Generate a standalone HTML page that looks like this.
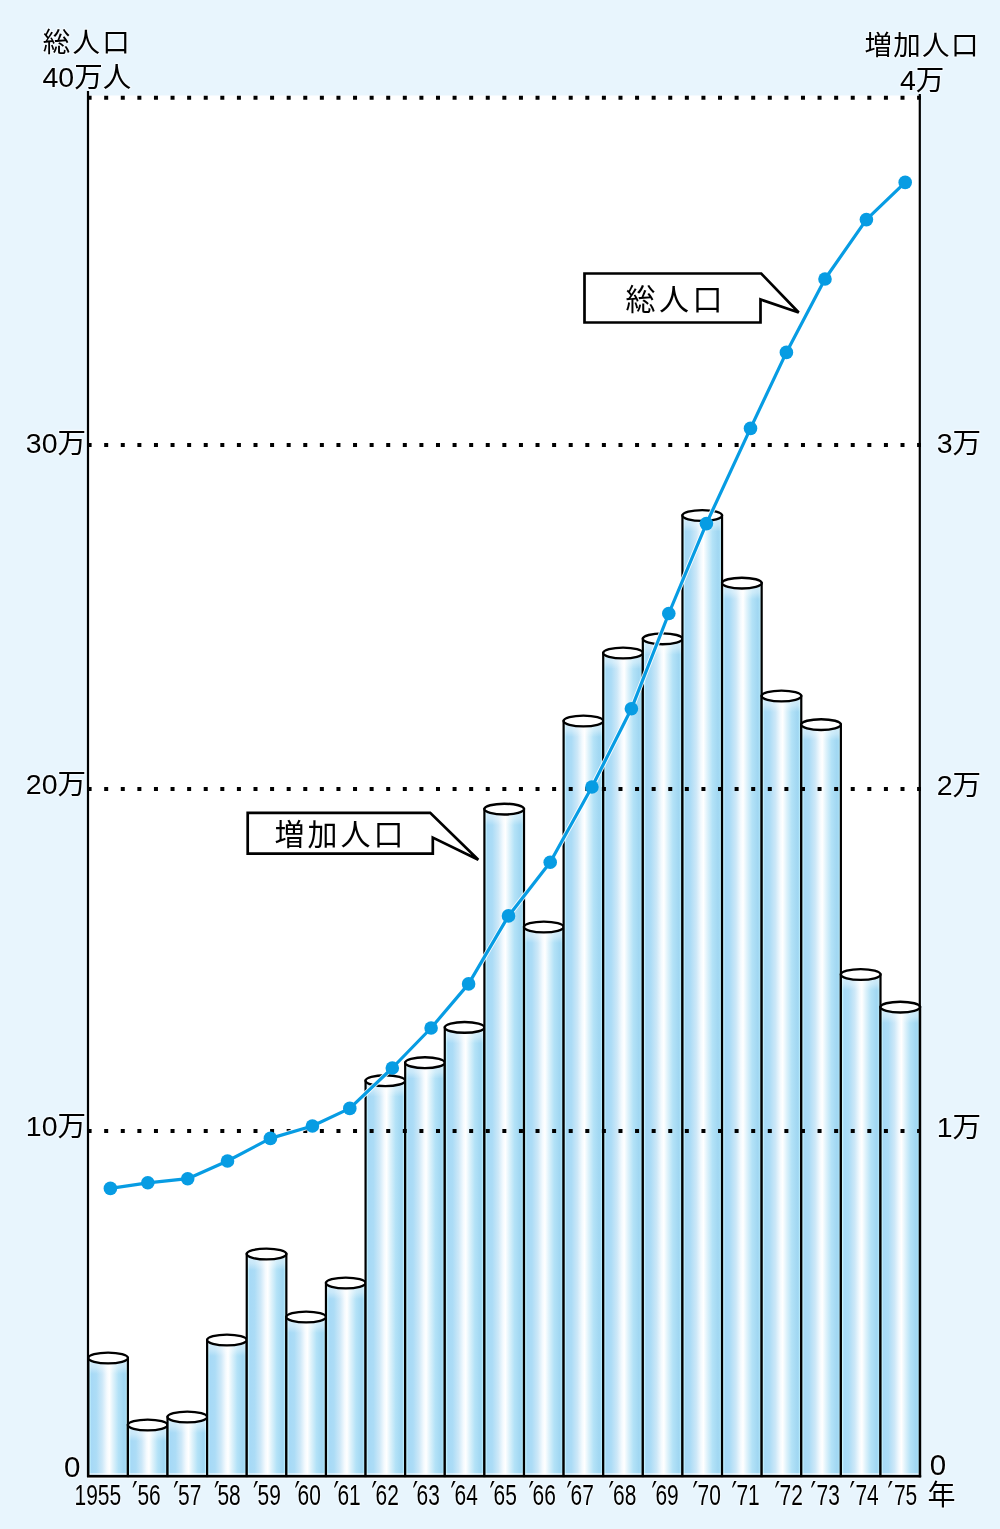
<!DOCTYPE html><html><head><meta charset="utf-8"><style>html,body{margin:0;padding:0;background:#e8f5fd;}svg{display:block}text{font-family:"Liberation Sans","Noto Sans CJK JP",sans-serif;fill:#000;stroke:#fff;stroke-width:2.5px;stroke-opacity:.55;paint-order:stroke;stroke-linejoin:round}.j{font-family:"Noto Sans CJK JP",sans-serif}</style></head><body>
<svg width="1000" height="1529" viewBox="0 0 1000 1529">
<defs><linearGradient id="g" x1="0" x2="1" y1="0" y2="0"><stop offset="0" stop-color="#b5e6fa"/><stop offset="0.04" stop-color="#c4f2fe"/><stop offset="0.075" stop-color="#a6d9f6"/><stop offset="0.2" stop-color="#acdcf6"/><stop offset="0.35" stop-color="#cde8f8"/><stop offset="0.47" stop-color="#f4fafe"/><stop offset="0.53" stop-color="#ffffff"/><stop offset="0.62" stop-color="#e0f3fb"/><stop offset="0.76" stop-color="#b3e2f7"/><stop offset="0.9" stop-color="#a1d7f2"/><stop offset="0.94" stop-color="#a6dcf4"/><stop offset="0.965" stop-color="#c0f0fd"/><stop offset="1" stop-color="#b0e4f8"/></linearGradient><linearGradient id="gv" x1="0" x2="0" y1="0" y2="1"><stop offset="0" stop-color="#fff" stop-opacity="0.6"/><stop offset="0.6" stop-color="#fff" stop-opacity="0.35"/><stop offset="1" stop-color="#fff" stop-opacity="0"/></linearGradient></defs>
<rect x="0" y="0" width="1000" height="1529" fill="#e8f5fd"/>
<rect x="88" y="95.5" width="832" height="1383.1" fill="#fff"/>
<rect x="88.30" y="1358.00" width="39.61" height="118.00" fill="url(#g)"/>
<rect x="88.30" y="1358.00" width="39.61" height="16" fill="url(#gv)"/>
<rect x="88.30" y="1473" width="39.61" height="3" fill="#fff" fill-opacity="0.55"/>
<rect x="88.30" y="1358.00" width="39.61" height="118.00" fill="none" stroke="#000" stroke-width="2.2"/>
<ellipse cx="108.10" cy="1358.00" rx="19.80" ry="5.4" fill="#fff" stroke="#000" stroke-width="2.4"/>
<rect x="127.91" y="1425.00" width="39.61" height="51.00" fill="url(#g)"/>
<rect x="127.91" y="1425.00" width="39.61" height="16" fill="url(#gv)"/>
<rect x="127.91" y="1473" width="39.61" height="3" fill="#fff" fill-opacity="0.55"/>
<rect x="127.91" y="1425.00" width="39.61" height="51.00" fill="none" stroke="#000" stroke-width="2.2"/>
<ellipse cx="147.71" cy="1425.00" rx="19.80" ry="5.4" fill="#fff" stroke="#000" stroke-width="2.4"/>
<rect x="167.52" y="1417.00" width="39.61" height="59.00" fill="url(#g)"/>
<rect x="167.52" y="1417.00" width="39.61" height="16" fill="url(#gv)"/>
<rect x="167.52" y="1473" width="39.61" height="3" fill="#fff" fill-opacity="0.55"/>
<rect x="167.52" y="1417.00" width="39.61" height="59.00" fill="none" stroke="#000" stroke-width="2.2"/>
<ellipse cx="187.32" cy="1417.00" rx="19.80" ry="5.4" fill="#fff" stroke="#000" stroke-width="2.4"/>
<rect x="207.13" y="1340.00" width="39.61" height="136.00" fill="url(#g)"/>
<rect x="207.13" y="1340.00" width="39.61" height="16" fill="url(#gv)"/>
<rect x="207.13" y="1473" width="39.61" height="3" fill="#fff" fill-opacity="0.55"/>
<rect x="207.13" y="1340.00" width="39.61" height="136.00" fill="none" stroke="#000" stroke-width="2.2"/>
<ellipse cx="226.93" cy="1340.00" rx="19.80" ry="5.4" fill="#fff" stroke="#000" stroke-width="2.4"/>
<rect x="246.74" y="1254.00" width="39.61" height="222.00" fill="url(#g)"/>
<rect x="246.74" y="1254.00" width="39.61" height="16" fill="url(#gv)"/>
<rect x="246.74" y="1473" width="39.61" height="3" fill="#fff" fill-opacity="0.55"/>
<rect x="246.74" y="1254.00" width="39.61" height="222.00" fill="none" stroke="#000" stroke-width="2.2"/>
<ellipse cx="266.54" cy="1254.00" rx="19.80" ry="5.4" fill="#fff" stroke="#000" stroke-width="2.4"/>
<rect x="286.35" y="1317.00" width="39.61" height="159.00" fill="url(#g)"/>
<rect x="286.35" y="1317.00" width="39.61" height="16" fill="url(#gv)"/>
<rect x="286.35" y="1473" width="39.61" height="3" fill="#fff" fill-opacity="0.55"/>
<rect x="286.35" y="1317.00" width="39.61" height="159.00" fill="none" stroke="#000" stroke-width="2.2"/>
<ellipse cx="306.15" cy="1317.00" rx="19.80" ry="5.4" fill="#fff" stroke="#000" stroke-width="2.4"/>
<rect x="325.96" y="1283.00" width="39.61" height="193.00" fill="url(#g)"/>
<rect x="325.96" y="1283.00" width="39.61" height="16" fill="url(#gv)"/>
<rect x="325.96" y="1473" width="39.61" height="3" fill="#fff" fill-opacity="0.55"/>
<rect x="325.96" y="1283.00" width="39.61" height="193.00" fill="none" stroke="#000" stroke-width="2.2"/>
<ellipse cx="345.76" cy="1283.00" rx="19.80" ry="5.4" fill="#fff" stroke="#000" stroke-width="2.4"/>
<rect x="365.57" y="1080.70" width="39.61" height="395.30" fill="url(#g)"/>
<rect x="365.57" y="1080.70" width="39.61" height="16" fill="url(#gv)"/>
<rect x="365.57" y="1473" width="39.61" height="3" fill="#fff" fill-opacity="0.55"/>
<rect x="365.57" y="1080.70" width="39.61" height="395.30" fill="none" stroke="#000" stroke-width="2.2"/>
<ellipse cx="385.37" cy="1080.70" rx="19.80" ry="5.4" fill="#fff" stroke="#000" stroke-width="2.4"/>
<rect x="405.18" y="1062.70" width="39.61" height="413.30" fill="url(#g)"/>
<rect x="405.18" y="1062.70" width="39.61" height="16" fill="url(#gv)"/>
<rect x="405.18" y="1473" width="39.61" height="3" fill="#fff" fill-opacity="0.55"/>
<rect x="405.18" y="1062.70" width="39.61" height="413.30" fill="none" stroke="#000" stroke-width="2.2"/>
<ellipse cx="424.98" cy="1062.70" rx="19.80" ry="5.4" fill="#fff" stroke="#000" stroke-width="2.4"/>
<rect x="444.79" y="1027.40" width="39.61" height="448.60" fill="url(#g)"/>
<rect x="444.79" y="1027.40" width="39.61" height="16" fill="url(#gv)"/>
<rect x="444.79" y="1473" width="39.61" height="3" fill="#fff" fill-opacity="0.55"/>
<rect x="444.79" y="1027.40" width="39.61" height="448.60" fill="none" stroke="#000" stroke-width="2.2"/>
<ellipse cx="464.59" cy="1027.40" rx="19.80" ry="5.4" fill="#fff" stroke="#000" stroke-width="2.4"/>
<rect x="484.40" y="809.10" width="39.61" height="666.90" fill="url(#g)"/>
<rect x="484.40" y="809.10" width="39.61" height="16" fill="url(#gv)"/>
<rect x="484.40" y="1473" width="39.61" height="3" fill="#fff" fill-opacity="0.55"/>
<rect x="484.40" y="809.10" width="39.61" height="666.90" fill="none" stroke="#000" stroke-width="2.2"/>
<ellipse cx="504.20" cy="809.10" rx="19.80" ry="5.4" fill="#fff" stroke="#000" stroke-width="2.4"/>
<rect x="524.00" y="927.00" width="39.61" height="549.00" fill="url(#g)"/>
<rect x="524.00" y="927.00" width="39.61" height="16" fill="url(#gv)"/>
<rect x="524.00" y="1473" width="39.61" height="3" fill="#fff" fill-opacity="0.55"/>
<rect x="524.00" y="927.00" width="39.61" height="549.00" fill="none" stroke="#000" stroke-width="2.2"/>
<ellipse cx="543.81" cy="927.00" rx="19.80" ry="5.4" fill="#fff" stroke="#000" stroke-width="2.4"/>
<rect x="563.61" y="721.00" width="39.61" height="755.00" fill="url(#g)"/>
<rect x="563.61" y="721.00" width="39.61" height="16" fill="url(#gv)"/>
<rect x="563.61" y="1473" width="39.61" height="3" fill="#fff" fill-opacity="0.55"/>
<rect x="563.61" y="721.00" width="39.61" height="755.00" fill="none" stroke="#000" stroke-width="2.2"/>
<ellipse cx="583.42" cy="721.00" rx="19.80" ry="5.4" fill="#fff" stroke="#000" stroke-width="2.4"/>
<rect x="603.22" y="653.00" width="39.61" height="823.00" fill="url(#g)"/>
<rect x="603.22" y="653.00" width="39.61" height="16" fill="url(#gv)"/>
<rect x="603.22" y="1473" width="39.61" height="3" fill="#fff" fill-opacity="0.55"/>
<rect x="603.22" y="653.00" width="39.61" height="823.00" fill="none" stroke="#000" stroke-width="2.2"/>
<ellipse cx="623.03" cy="653.00" rx="19.80" ry="5.4" fill="#fff" stroke="#000" stroke-width="2.4"/>
<rect x="642.83" y="638.80" width="39.61" height="837.20" fill="url(#g)"/>
<rect x="642.83" y="638.80" width="39.61" height="16" fill="url(#gv)"/>
<rect x="642.83" y="1473" width="39.61" height="3" fill="#fff" fill-opacity="0.55"/>
<rect x="642.83" y="638.80" width="39.61" height="837.20" fill="none" stroke="#000" stroke-width="2.2"/>
<ellipse cx="662.64" cy="638.80" rx="19.80" ry="5.4" fill="#fff" stroke="#000" stroke-width="2.4"/>
<rect x="682.44" y="515.50" width="39.61" height="960.50" fill="url(#g)"/>
<rect x="682.44" y="515.50" width="39.61" height="16" fill="url(#gv)"/>
<rect x="682.44" y="1473" width="39.61" height="3" fill="#fff" fill-opacity="0.55"/>
<rect x="682.44" y="515.50" width="39.61" height="960.50" fill="none" stroke="#000" stroke-width="2.2"/>
<ellipse cx="702.25" cy="515.50" rx="19.80" ry="5.4" fill="#fff" stroke="#000" stroke-width="2.4"/>
<rect x="722.05" y="583.10" width="39.61" height="892.90" fill="url(#g)"/>
<rect x="722.05" y="583.10" width="39.61" height="16" fill="url(#gv)"/>
<rect x="722.05" y="1473" width="39.61" height="3" fill="#fff" fill-opacity="0.55"/>
<rect x="722.05" y="583.10" width="39.61" height="892.90" fill="none" stroke="#000" stroke-width="2.2"/>
<ellipse cx="741.86" cy="583.10" rx="19.80" ry="5.4" fill="#fff" stroke="#000" stroke-width="2.4"/>
<rect x="761.66" y="696.00" width="39.61" height="780.00" fill="url(#g)"/>
<rect x="761.66" y="696.00" width="39.61" height="16" fill="url(#gv)"/>
<rect x="761.66" y="1473" width="39.61" height="3" fill="#fff" fill-opacity="0.55"/>
<rect x="761.66" y="696.00" width="39.61" height="780.00" fill="none" stroke="#000" stroke-width="2.2"/>
<ellipse cx="781.47" cy="696.00" rx="19.80" ry="5.4" fill="#fff" stroke="#000" stroke-width="2.4"/>
<rect x="801.27" y="724.60" width="39.61" height="751.40" fill="url(#g)"/>
<rect x="801.27" y="724.60" width="39.61" height="16" fill="url(#gv)"/>
<rect x="801.27" y="1473" width="39.61" height="3" fill="#fff" fill-opacity="0.55"/>
<rect x="801.27" y="724.60" width="39.61" height="751.40" fill="none" stroke="#000" stroke-width="2.2"/>
<ellipse cx="821.08" cy="724.60" rx="19.80" ry="5.4" fill="#fff" stroke="#000" stroke-width="2.4"/>
<rect x="840.88" y="974.50" width="39.61" height="501.50" fill="url(#g)"/>
<rect x="840.88" y="974.50" width="39.61" height="16" fill="url(#gv)"/>
<rect x="840.88" y="1473" width="39.61" height="3" fill="#fff" fill-opacity="0.55"/>
<rect x="840.88" y="974.50" width="39.61" height="501.50" fill="none" stroke="#000" stroke-width="2.2"/>
<ellipse cx="860.69" cy="974.50" rx="19.80" ry="5.4" fill="#fff" stroke="#000" stroke-width="2.4"/>
<rect x="880.49" y="1007.10" width="39.61" height="468.90" fill="url(#g)"/>
<rect x="880.49" y="1007.10" width="39.61" height="16" fill="url(#gv)"/>
<rect x="880.49" y="1473" width="39.61" height="3" fill="#fff" fill-opacity="0.55"/>
<rect x="880.49" y="1007.10" width="39.61" height="468.90" fill="none" stroke="#000" stroke-width="2.2"/>
<ellipse cx="900.30" cy="1007.10" rx="19.80" ry="5.4" fill="#fff" stroke="#000" stroke-width="2.4"/>
<line x1="87.6" y1="97.8" x2="921" y2="97.8" stroke="#000" stroke-width="4" stroke-dasharray="4 12.59"/>
<line x1="87.6" y1="445" x2="921" y2="445" stroke="#000" stroke-width="4" stroke-dasharray="4 12.59"/>
<line x1="87.6" y1="789" x2="921" y2="789" stroke="#000" stroke-width="4" stroke-dasharray="4 12.59"/>
<line x1="87.6" y1="1131" x2="921" y2="1131" stroke="#000" stroke-width="4" stroke-dasharray="4 12.59"/>
<line x1="88" y1="91" x2="88" y2="1477" stroke="#000" stroke-width="2.2"/>
<line x1="919.8" y1="94" x2="919.8" y2="1477.3" stroke="#000" stroke-width="2.2"/>
<line x1="87" y1="1476.4" x2="921.2" y2="1476.4" stroke="#000" stroke-width="2.3"/>
<path d="M247.7,812.9 L430.2,812.9 L478.3,859.7 L432.8,837.6 L432.8,853.7 L247.7,853.7 Z" fill="#fff" stroke="#000" stroke-width="2.7" stroke-linejoin="miter"/>
<path d="M584.5,273.5 L761.2,273.5 L798.7,312.5 L760.5,299.5 L760.5,322.5 L584.5,322.5 Z" fill="#fff" stroke="#000" stroke-width="2.7" stroke-linejoin="miter"/>
<polyline points="110.4,1188.4 147.8,1182.8 187.7,1178.7 227.5,1161 270.4,1138.4 312.4,1126 349.8,1108.4 392.3,1068 431.1,1028 468.6,983.9 508.5,915.9 550.2,862.3 591.9,787 631.4,708.8 668.8,613.5 706.4,523.6 750.5,428.4 786.4,352.4 825,279 866.4,219.6 905.2,182.4" fill="none" stroke="#fff" stroke-width="5" stroke-linejoin="round" stroke-opacity="0.9"/>
<polyline points="110.4,1188.4 147.8,1182.8 187.7,1178.7 227.5,1161 270.4,1138.4 312.4,1126 349.8,1108.4 392.3,1068 431.1,1028 468.6,983.9 508.5,915.9 550.2,862.3 591.9,787 631.4,708.8 668.8,613.5 706.4,523.6 750.5,428.4 786.4,352.4 825,279 866.4,219.6 905.2,182.4" fill="none" stroke="#079ce3" stroke-width="3.2" stroke-linejoin="round"/>
<circle cx="110.4" cy="1188.4" r="6.8" fill="#079ce3"/>
<circle cx="147.8" cy="1182.8" r="6.8" fill="#079ce3"/>
<circle cx="187.7" cy="1178.7" r="6.8" fill="#079ce3"/>
<circle cx="227.5" cy="1161" r="6.8" fill="#079ce3"/>
<circle cx="270.4" cy="1138.4" r="6.8" fill="#079ce3"/>
<circle cx="312.4" cy="1126" r="6.8" fill="#079ce3"/>
<circle cx="349.8" cy="1108.4" r="6.8" fill="#079ce3"/>
<circle cx="392.3" cy="1068" r="6.8" fill="#079ce3"/>
<circle cx="431.1" cy="1028" r="6.8" fill="#079ce3"/>
<circle cx="468.6" cy="983.9" r="6.8" fill="#079ce3"/>
<circle cx="508.5" cy="915.9" r="6.8" fill="#079ce3"/>
<circle cx="550.2" cy="862.3" r="6.8" fill="#079ce3"/>
<circle cx="591.9" cy="787" r="6.8" fill="#079ce3"/>
<circle cx="631.4" cy="708.8" r="6.8" fill="#079ce3"/>
<circle cx="668.8" cy="613.5" r="6.8" fill="#079ce3"/>
<circle cx="706.4" cy="523.6" r="6.8" fill="#079ce3"/>
<circle cx="750.5" cy="428.4" r="6.8" fill="#079ce3"/>
<circle cx="786.4" cy="352.4" r="6.8" fill="#079ce3"/>
<circle cx="825" cy="279" r="6.8" fill="#079ce3"/>
<circle cx="866.4" cy="219.6" r="6.8" fill="#079ce3"/>
<circle cx="905.2" cy="182.4" r="6.8" fill="#079ce3"/>
<text x="42.8" y="52.2" font-size="27.5" text-anchor="start" letter-spacing="2.2">総人口</text>
<text x="42.5" y="87.2" font-size="28.5" text-anchor="start">40万人</text>
<text x="864.5" y="54.8" font-size="27.5" text-anchor="start" letter-spacing="1.3">増加人口</text>
<text x="900" y="90" font-size="28.5" text-anchor="start">4万</text>
<text x="86" y="452.5" font-size="28.5" text-anchor="end">30万</text>
<text x="86" y="794" font-size="28.5" text-anchor="end">20万</text>
<text x="86" y="1136" font-size="28.5" text-anchor="end">10万</text>
<text x="981" y="452.5" font-size="28.5" text-anchor="end">3万</text>
<text x="981" y="794.5" font-size="28.5" text-anchor="end">2万</text>
<text x="981" y="1136.5" font-size="28.5" text-anchor="end">1万</text>
<text x="80.3" y="1477.3" font-size="29.5" text-anchor="end">0</text>
<text x="929.8" y="1474.7" font-size="29.5" text-anchor="start">0</text>
<text x="274.5" y="845" font-size="30" text-anchor="start" letter-spacing="3">増加人口</text>
<text x="625.5" y="310" font-size="30" text-anchor="start" letter-spacing="3.5">総人口</text>
<text x="106.43" y="1504.6" font-size="29.9" transform="scale(0.7 1)">1955</text>
<text y="1504.6" font-size="29.9" transform="scale(0.7 1)"><tspan x="188.57" y="1507.3" font-size="36" style="font-family:'DejaVu Sans',sans-serif">′</tspan><tspan x="196.43" y="1504.6">56</tspan></text>
<text y="1504.6" font-size="29.9" transform="scale(0.7 1)"><tspan x="247.50" y="1507.3" font-size="36" style="font-family:'DejaVu Sans',sans-serif">′</tspan><tspan x="254.29" y="1504.6">57</tspan></text>
<text y="1504.6" font-size="29.9" transform="scale(0.7 1)"><tspan x="305.57" y="1507.3" font-size="36" style="font-family:'DejaVu Sans',sans-serif">′</tspan><tspan x="310.71" y="1504.6">58</tspan></text>
<text y="1504.6" font-size="29.9" transform="scale(0.7 1)"><tspan x="361.57" y="1507.3" font-size="36" style="font-family:'DejaVu Sans',sans-serif">′</tspan><tspan x="367.86" y="1504.6">59</tspan></text>
<text y="1504.6" font-size="29.9" transform="scale(0.7 1)"><tspan x="420.71" y="1507.3" font-size="36" style="font-family:'DejaVu Sans',sans-serif">′</tspan><tspan x="425.00" y="1504.6">60</tspan></text>
<text y="1504.6" font-size="29.9" transform="scale(0.7 1)"><tspan x="476.43" y="1507.3" font-size="36" style="font-family:'DejaVu Sans',sans-serif">′</tspan><tspan x="482.14" y="1504.6">61</tspan></text>
<text y="1504.6" font-size="29.9" transform="scale(0.7 1)"><tspan x="530.71" y="1507.3" font-size="36" style="font-family:'DejaVu Sans',sans-serif">′</tspan><tspan x="536.43" y="1504.6">62</tspan></text>
<text y="1504.6" font-size="29.9" transform="scale(0.7 1)"><tspan x="589.29" y="1507.3" font-size="36" style="font-family:'DejaVu Sans',sans-serif">′</tspan><tspan x="595.00" y="1504.6">63</tspan></text>
<text y="1504.6" font-size="29.9" transform="scale(0.7 1)"><tspan x="643.57" y="1507.3" font-size="36" style="font-family:'DejaVu Sans',sans-serif">′</tspan><tspan x="649.29" y="1504.6">64</tspan></text>
<text y="1504.6" font-size="29.9" transform="scale(0.7 1)"><tspan x="699.29" y="1507.3" font-size="36" style="font-family:'DejaVu Sans',sans-serif">′</tspan><tspan x="705.00" y="1504.6">65</tspan></text>
<text y="1504.6" font-size="29.9" transform="scale(0.7 1)"><tspan x="755.00" y="1507.3" font-size="36" style="font-family:'DejaVu Sans',sans-serif">′</tspan><tspan x="760.71" y="1504.6">66</tspan></text>
<text y="1504.6" font-size="29.9" transform="scale(0.7 1)"><tspan x="809.29" y="1507.3" font-size="36" style="font-family:'DejaVu Sans',sans-serif">′</tspan><tspan x="815.00" y="1504.6">67</tspan></text>
<text y="1504.6" font-size="29.9" transform="scale(0.7 1)"><tspan x="869.29" y="1507.3" font-size="36" style="font-family:'DejaVu Sans',sans-serif">′</tspan><tspan x="875.86" y="1504.6">68</tspan></text>
<text y="1504.6" font-size="29.9" transform="scale(0.7 1)"><tspan x="930.71" y="1507.3" font-size="36" style="font-family:'DejaVu Sans',sans-serif">′</tspan><tspan x="936.43" y="1504.6">69</tspan></text>
<text y="1504.6" font-size="29.9" transform="scale(0.7 1)"><tspan x="989.29" y="1507.3" font-size="36" style="font-family:'DejaVu Sans',sans-serif">′</tspan><tspan x="996.43" y="1504.6">70</tspan></text>
<text y="1504.6" font-size="29.9" transform="scale(0.7 1)"><tspan x="1045.00" y="1507.3" font-size="36" style="font-family:'DejaVu Sans',sans-serif">′</tspan><tspan x="1052.14" y="1504.6">71</tspan></text>
<text y="1504.6" font-size="29.9" transform="scale(0.7 1)"><tspan x="1106.43" y="1507.3" font-size="36" style="font-family:'DejaVu Sans',sans-serif">′</tspan><tspan x="1113.57" y="1504.6">72</tspan></text>
<text y="1504.6" font-size="29.9" transform="scale(0.7 1)"><tspan x="1157.86" y="1507.3" font-size="36" style="font-family:'DejaVu Sans',sans-serif">′</tspan><tspan x="1166.43" y="1504.6">73</tspan></text>
<text y="1504.6" font-size="29.9" transform="scale(0.7 1)"><tspan x="1213.57" y="1507.3" font-size="36" style="font-family:'DejaVu Sans',sans-serif">′</tspan><tspan x="1222.14" y="1504.6">74</tspan></text>
<text y="1504.6" font-size="29.9" transform="scale(0.7 1)"><tspan x="1267.86" y="1507.3" font-size="36" style="font-family:'DejaVu Sans',sans-serif">′</tspan><tspan x="1277.00" y="1504.6">75</tspan></text>
<text x="927.6" y="1505.3" font-size="28" text-anchor="start">年</text>
</svg></body></html>
